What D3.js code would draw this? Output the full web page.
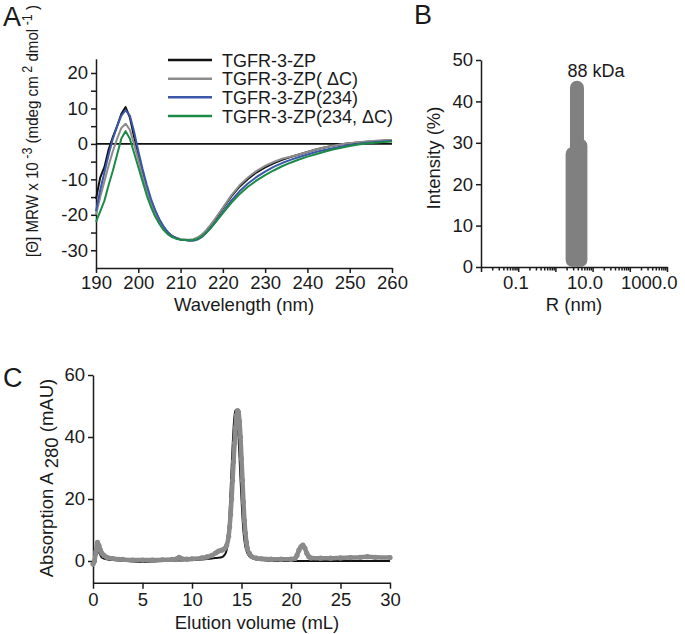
<!DOCTYPE html>
<html><head><meta charset="utf-8">
<script src="https://cdn.jsdelivr.net/npm/d3@7"></script>
<style>
body{margin:0;background:#fff}
text{font-family:"Liberation Sans",Arial,sans-serif;fill:#1a1a1a}
</style>
</head><body>
<svg id="fig" width="685" height="634"></svg>
<script>
// ---------- Panel A: CD spectra ----------
const wavelengths = [190,191,192,193,194,195,196,197,198,199,200,201,202,203,204,205,206,207,208,209,210,211,212,213,214,215,216,217,218,219,220,222,224,226,228,230,232,234,236,238,240,242,244,246,248,250,252,254,256,258,260];
const cdNames = ["TGFR-3-ZP","TGFR-3-ZP( \u0394C)","TGFR-3-ZP(234)","TGFR-3-ZP(234, \u0394C)"];
const cdBlack = [-15.5,-9.5,-6.5,-1.5,2,5,8.5,10.4,7.5,2,-3,-8,-12.5,-16,-19,-21.5,-23.5,-25,-26,-26.5,-27,-27,-27.2,-27,-26.6,-25.8,-24.6,-23.2,-21.6,-19.9,-18.2,-14.8,-12,-9.8,-8,-6.6,-5.5,-4.5,-3.7,-3.0,-2.3,-1.6,-1.0,-0.5,-0.1,0.2,0.4,0.6,0.7,0.9,1.0];
const cdGrey  = [-20,-15,-10.5,-6,-2,1.5,4.5,5.7,4,0,-4.5,-9,-13,-16.5,-19.5,-21.8,-23.6,-25,-26,-26.5,-26.9,-27,-27,-26.9,-26.4,-25.6,-24.4,-23,-21.4,-19.7,-18,-14.5,-11.6,-9.4,-7.6,-6.2,-5.1,-4.2,-3.6,-3.0,-2.3,-1.6,-1.0,-0.5,-0.1,0.2,0.5,0.7,0.9,1.0,1.1];
const cdBlue  = [-19,-13,-8,-3,1.5,5,8,9.5,8,3.5,-2,-7,-11.5,-15.5,-18.7,-21.3,-23.3,-24.9,-26,-26.6,-27,-27.1,-27.3,-27.3,-27,-26.3,-25.2,-23.9,-22.4,-20.8,-19.2,-16,-13.3,-11.1,-9.3,-7.8,-6.5,-5.4,-4.5,-3.7,-3,-2.3,-1.7,-1.2,-0.7,-0.3,0,0.3,0.5,0.7,0.8];
const cdGreen = [-22,-19,-16,-11.5,-7.5,-3,1.5,3.6,1.5,-2.5,-6.5,-10.5,-14.5,-17.8,-20.5,-22.6,-24.3,-25.5,-26.3,-26.8,-27,-27.1,-27.2,-27.1,-26.8,-26.1,-25.1,-23.9,-22.5,-21,-19.5,-16.6,-14.1,-12,-10.3,-8.8,-7.5,-6.3,-5.3,-4.4,-3.6,-2.9,-2.2,-1.6,-1.1,-0.6,-0.2,0.1,0.3,0.5,0.7];
const cdColors = ["#111111","#8c8c8c","#3b58a8","#1d8a48"];
const cdXTicks = [190,200,210,220,230,240,250,260];
const cdYTicks = [-30,-25,-20,-15,-10,-5,0,5,10,15,20];

// ---------- Panel B: DLS ----------
const dlsRadius = [2.9, 3.8, 4.7];
const dlsIntensity = [29, 45, 31];
const dlsYTicks = [0,10,20,30,40,50];
const dlsLabelTicks = [0.1, 10, 1000];
const dlsLabelText = ["0.1","10.0","1000.0"];
const dlsDecades = [0.01,0.1,1,10,100,1000];
const dlsMinorMult = [2,3,4,5,6,7,8,9];

// ---------- Panel C: SEC ----------
const secVolBlack = [0,0.2,0.35,0.5,0.65,0.8,1.0,1.5,2,3,4,5,6,7,8,9,10,11,12,12.5,13,13.3,13.5,13.6,13.7,13.8,13.9,14.0,14.1,14.2,14.3,14.4,14.5,14.6,14.7,14.8,14.9,15.0,15.1,15.2,15.3,15.4,15.6,15.8,16,16.5,17,18,20,22,25,28,30];
const secBlack    = [0,0.3,2.0,3.2,2.5,1.5,0.9,0.5,0.3,0.1,-0.2,-0.3,-0.2,0,0.1,0.2,0.3,0.5,0.8,1.0,1.2,2.0,3.5,6,10,16,23,30,37,43,47,48.7,48.3,45,40,33.5,26.5,20,14,9.5,6.5,4.5,2.5,1.5,1.0,0.5,0.3,0.1,0,0,0,0,0];
const secVolGrey = [0,0.15,0.3,0.45,0.6,0.75,0.9,1.1,1.4,2,3,4,5,6,7,8,8.5,8.7,8.9,9.5,10,11,11.5,12,12.4,12.7,13.0,13.3,13.5,13.7,13.8,13.9,14.0,14.1,14.2,14.3,14.4,14.5,14.6,14.7,14.8,14.9,15.0,15.1,15.2,15.3,15.4,15.5,15.6,15.8,16.0,16.5,17,18,19,20,20.4,20.6,20.8,21.0,21.2,21.4,21.6,21.8,22.0,23,24,25,26,27,27.7,28.5,30];
const secGrey    = [-1,0,3,6,5,3.5,2.5,1.8,1.2,0.8,0.5,0.3,0.3,0.3,0.4,0.5,0.8,1.2,0.8,0.6,0.7,1.0,1.3,1.8,2.6,3.2,3.5,4.0,5,8,11,15,20,26,32,38,43,47,48.5,48,45,40,33,26,19,13,9,6,4,2.5,1.5,0.9,0.7,0.6,0.6,0.6,0.8,1.8,3.5,4.6,5.1,4.2,2.5,1.4,1.0,0.9,0.9,1.0,1.1,1.2,1.4,1.2,1.1];
const secXTicks = [0,5,10,15,20,25,30];
const secYTicks = [0,20,40,60];

// ---------- drawing ----------
const svg = d3.select("#fig");
const TICKFONT = 18.5, TITLEFONT = 18.5;

function styleAxis(g){
  g.select(".domain").attr("stroke","#1a1a1a").attr("stroke-width",1.5);
  g.selectAll(".tick line").attr("stroke","#1a1a1a").attr("stroke-width",1.5);
  g.selectAll(".tick text").attr("font-size",TICKFONT).attr("fill","#1a1a1a")
    .attr("font-family","Liberation Sans, Arial, sans-serif");
}

// Panel letters
svg.append("text").attr("x",3).attr("y",26).attr("font-size",27).text("A");
svg.append("text").attr("x",414).attr("y",24).attr("font-size",27).text("B");
svg.append("text").attr("x",3).attr("y",387).attr("font-size",27).text("C");

// ===== Panel A =====
{
  const x = d3.scaleLinear().domain([190,260]).range([96,392]);
  const y = d3.scaleLinear().domain([-35,24]).range([268,58.8]);
  const gx = svg.append("g").attr("transform","translate(0,268)")
    .call(d3.axisBottom(x).tickValues(cdXTicks).tickSize(5).tickPadding(3).tickSizeOuter(0));
  styleAxis(gx);
  const gy = svg.append("g").attr("transform","translate(96,0)")
    .call(d3.axisLeft(y).tickValues(cdYTicks).tickSize(5).tickPadding(3).tickSizeOuter(0)
      .tickFormat(d => d % 10 === 0 ? d : ""));
  styleAxis(gy);
  // zero line
  svg.append("line").attr("x1",x(190)).attr("x2",x(260)).attr("y1",y(0)).attr("y2",y(0))
    .attr("stroke","#111").attr("stroke-width",1.6);
  const series = [cdBlack, cdGrey, cdBlue, cdGreen];
  const line = d3.line().x((d,i)=>x(wavelengths[i])).y(d=>y(d));
  series.forEach((s,k)=>{
    svg.append("path").datum(s).attr("d",line).attr("fill","none")
      .attr("stroke",cdColors[k]).attr("stroke-width",2).attr("stroke-linejoin","round");
  });
  // legend
  const rowY = d3.scaleLinear().domain([0,3]).range([60,116]);
  cdNames.forEach((n,k)=>{
    svg.append("line").attr("x1",168).attr("x2",212).attr("y1",rowY(k)).attr("y2",rowY(k))
      .attr("stroke",cdColors[k]).attr("stroke-width",2.5);
    svg.append("text").attr("x",222).attr("y",rowY(k)+6.5).attr("font-size",18).text(n);
  });
  // axis titles
  svg.append("text").attr("x",244).attr("y",311).attr("text-anchor","middle")
    .attr("font-size",TITLEFONT).text("Wavelength (nm)");
  const yt = svg.append("text").attr("transform","translate(38,131) rotate(-90)")
    .attr("text-anchor","middle").attr("font-size",17)
    .attr("textLength",252).attr("lengthAdjust","spacingAndGlyphs");
  yt.append("tspan").text("[\u0398] MRW x 10");
  yt.append("tspan").attr("dy",-6).attr("font-size",14).text(" -3");
  yt.append("tspan").attr("dy",6).text(" (mdeg cm");
  yt.append("tspan").attr("dy",-6).attr("font-size",14).text(" 2");
  yt.append("tspan").attr("dy",6).text(" dmol");
  yt.append("tspan").attr("dy",-6).attr("font-size",14).text(" -1");
  yt.append("tspan").attr("dy",6).text(" )");
}

// ===== Panel B =====
{
  const x = d3.scaleLog().domain([0.01,1000]).range([481,667]);
  const y = d3.scaleLinear().domain([0,50]).range([267,60]);
  const allTicks = [];
  dlsDecades.forEach(dec=>{
    allTicks.push(dec);
    if (dec < 1000) dlsMinorMult.forEach(m=>allTicks.push(dec*m));
  });
  const isMajor = v => dlsDecades.some(d=>Math.abs(d - v) < d*1e-6);
  const labelFor = v => {
    const i = dlsLabelTicks.findIndex(t=>Math.abs(t - v) < t*1e-6);
    return i >= 0 ? dlsLabelText[i] : "";
  };
  const gx = svg.append("g").attr("transform","translate(0,267)")
    .call(d3.axisBottom(x).tickValues(allTicks).tickSize(5).tickPadding(4).tickSizeOuter(0)
      .tickFormat(labelFor));
  styleAxis(gx);
  gx.selectAll(".tick").filter(d=>!isMajor(d)).select("line").attr("y2",3.5);
  gx.selectAll(".tick text").attr("text-anchor","end").attr("dx",10);
  const gy = svg.append("g").attr("transform","translate(481,0)")
    .call(d3.axisLeft(y).tickValues(dlsYTicks).tickSize(5).tickPadding(3).tickSizeOuter(0));
  styleAxis(gy);
  dlsRadius.forEach((r,i)=>{
    const w = 14;
    svg.append("rect").attr("x",x(r)-w/2).attr("width",w)
      .attr("y",y(dlsIntensity[i])).attr("height",y(0)-y(dlsIntensity[i]))
      .attr("rx",w/2).attr("ry",w/2).attr("fill","#808080");
  });
  svg.append("text").attr("x",x(dlsRadius[1])+19).attr("y",77).attr("text-anchor","middle")
    .attr("font-size",18).text("88 kDa");
  svg.append("text").attr("x",574).attr("y",311).attr("text-anchor","middle")
    .attr("font-size",TITLEFONT).text("R (nm)");
  svg.append("text").attr("transform","translate(440,158) rotate(-90)").attr("text-anchor","middle")
    .attr("font-size",TITLEFONT).text("Intensity (%)");
}

// ===== Panel C =====
{
  const x = d3.scaleLinear().domain([0,30]).range([93,390]);
  const y = d3.scaleLinear().domain([-7,60]).range([582.7,375]);
  const gx = svg.append("g").attr("transform","translate(0,582.7)")
    .call(d3.axisBottom(x).tickValues(secXTicks).tickSize(6).tickPadding(4).tickSizeOuter(0));
  styleAxis(gx);
  const gy = svg.append("g").attr("transform","translate(93,0)")
    .call(d3.axisLeft(y).tickValues(secYTicks).tickSize(5).tickPadding(3).tickSizeOuter(0));
  styleAxis(gy);
  const lineB = d3.line().x((d,i)=>x(secVolBlack[i])).y(d=>y(d)).curve(d3.curveMonotoneX);
  svg.append("path").datum(secBlack).attr("d",lineB).attr("fill","none")
    .attr("stroke","#111").attr("stroke-width",2);
  const lineG = d3.line().x((d,i)=>x(secVolGrey[i])).y(d=>y(d)).curve(d3.curveMonotoneX);
  svg.append("path").datum(secGrey).attr("d",lineG).attr("fill","none")
    .attr("stroke","#8a8a8a").attr("stroke-width",4.5).attr("stroke-linejoin","round").attr("stroke-linecap","round");
  svg.append("g").selectAll("circle").data(secGrey).join("circle")
    .attr("cx",(d,i)=>x(secVolGrey[i])).attr("cy",d=>y(d)).attr("r",2.6).attr("fill","#8a8a8a");
  svg.append("text").attr("x",257).attr("y",629).attr("text-anchor","middle")
    .attr("font-size",TITLEFONT).text("Elution volume (mL)");
  const yt = svg.append("text").attr("transform","translate(53,478) rotate(-90)")
    .attr("text-anchor","middle").attr("font-size",TITLEFONT);
  yt.append("tspan").text("Absorption A ");
  yt.append("tspan").attr("dy",5).text("280");
  yt.append("tspan").attr("dy",-5).text(" (mAU)");
}
</script>
</body></html>
